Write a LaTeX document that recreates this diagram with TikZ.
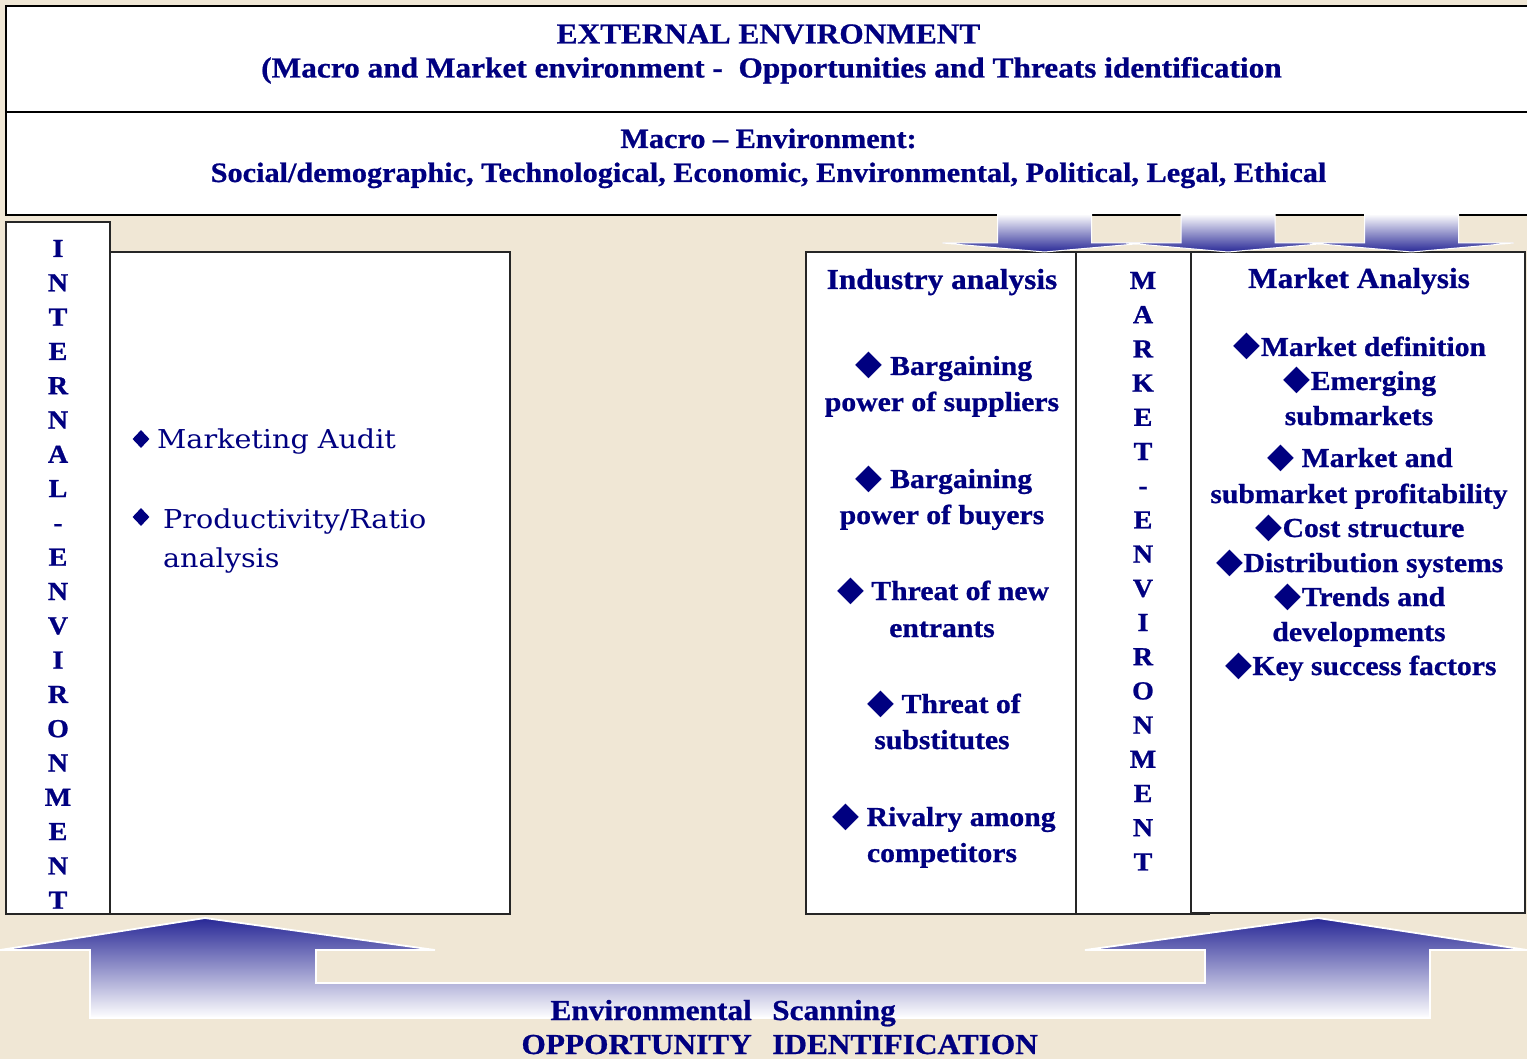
\documentclass[tikz,border=0pt]{standalone}
\usepackage{fontspec}
\setmainfont{Liberation Serif}[FakeStretch=1.08, BoldFeatures={FakeBold=0.8}]
\newfontfamily\bookfont{DejaVu Serif}[FakeStretch=1.1]
\newfontfamily\symfont{DejaVu Sans}
\usetikzlibrary{shapes.geometric}
\definecolor{beige}{RGB}{240,231,213}
\definecolor{navy}{RGB}{0,0,128}
\definecolor{arrowblue}{RGB}{40,40,150}
\newcommand\fsz[1]{\fontsize{#1}{#1}\selectfont}
\newcommand\dmd{{\symfont\fontsize{35}{35}\selectfont ◆}}
\begin{document}
\begin{tikzpicture}[x=1pt,y=-1pt,
  frame/.style={draw=black, line width=2.5pt, fill=white},
  panel/.style={draw=black!85, line width=1.6pt, fill=white},
  t/.style={text=navy, inner sep=0pt, anchor=base},
  head/.style={t, font=\bfseries\fsz{28}},
  title/.style={t, font=\bfseries\fsz{29}},
  item/.style={t, font=\bfseries\fsz{27.5}},
  vl/.style={t, font=\bfseries\fsz{26}},
  bul/.style={diamond, fill=navy, inner sep=0pt, minimum width=17pt, minimum height=18pt},
  downarrow/.style={top color=white, bottom color=arrowblue, draw=white, line width=1pt},
  uparrow/.style={top color=arrowblue, bottom color=white, draw=white, line width=1.8pt}]
\useasboundingbox (0,0) rectangle (1527,1059);
\fill[beige] (0,0) rectangle (1527,1059);
\begin{scope}
\clip (0,0) rectangle (1527,1059);

% external environment header and macro environment band
\draw[frame] (6,6) rectangle (1545,112);
\draw[frame] (6,112) rectangle (1545,215);
\node[title] (ext1) at (768.5,43.5) {EXTERNAL ENVIRONMENT};
\node[title] (ext2) at (771.5,77.5) {(Macro and Market environment -\ \ Opportunities and Threats identification};
\node[head] (mac1) at (768.5,148) {Macro -- Environment:};
\node[head] (mac2) at (768.5,182) {Social/demographic, Technological, Economic, Environmental, Political, Legal, Ethical};

% internal environment
\draw[panel] (6,222) rectangle (110,914);
\draw[panel] (110,252) rectangle (510,914);
\foreach \ch [count=\i from 0] in {I,N,T,E,R,N,A,L,-,E,N,V,I,R,O,N,M,E,N,T}
  \node[vl] (int\i) at (58,257+34.3*\i) {\ch};
\node[bul] (b1) at (141,439) {};
\node[t, anchor=base west, font=\bookfont\fsz{26}] (aud) at (157,448) {Marketing Audit};
\node[bul] (b2) at (141,517) {};
\node[t, anchor=base west, font=\bookfont\fsz{26}] (pro1) at (163,528) {Productivity/Ratio};
\node[t, anchor=base west, font=\bookfont\fsz{26}] (pro2) at (163,567) {analysis};

% market environment: industry and market analysis
\draw[panel] (806,252) rectangle (1076,914);
\draw[panel] (1076,252) rectangle (1191,914);
\draw[panel] (1191,252) rectangle (1525,913);
\draw[black!85, line width=1.6pt] (1076,914) -- (1210,914);

\node[title] (indh) at (942,289) {Industry analysis};
\node[item] (i1a) at (944,375) {\dmd\ Bargaining};
\node[item] (i1b) at (942,411) {power of suppliers};
\node[item] (i2a) at (944,488) {\dmd\ Bargaining};
\node[item] (i2b) at (942,524) {power of buyers};
\node[item] (i3a) at (943,600) {\dmd\ Threat of new};
\node[item] (i3b) at (942,637) {entrants};
\node[item] (i4a) at (944,713) {\dmd\ Threat of};
\node[item] (i4b) at (942,749) {substitutes};
\node[item] (i5a) at (944,826) {\dmd\ Rivalry among};
\node[item] (i5b) at (942,862) {competitors};

\foreach \ch [count=\i from 0] in {M,A,R,K,E,T,-,E,N,V,I,R,O,N,M,E,N,T}
  \node[vl] (mkt\i) at (1143,289+34.2*\i) {\ch};

\node[title] (mah) at (1359,288) {Market Analysis};
\node[item] (m1) at (1360,356) {\dmd Market definition};
\node[item] (m2a) at (1360,390) {\dmd Emerging};
\node[item] (m2b) at (1359,425) {submarkets};
\node[item] (m3a) at (1360,467) {\dmd\ Market and};
\node[item] (m3b) at (1359,503) {submarket profitability};
\node[item] (m4) at (1360,537) {\dmd Cost structure};
\node[item] (m5) at (1360,572) {\dmd Distribution systems};
\node[item] (m6a) at (1360,606) {\dmd Trends and};
\node[item] (m6b) at (1359,641) {developments};
\node[item] (m7) at (1361,675) {\dmd Key success factors};

% arrows from the macro band down into the market analysis
\foreach \c in {1044.5,1228,1411.5}
  \draw[downarrow] ({\c-47},214) -- ({\c+47},214) -- ({\c+47},243) -- ({\c+102},243)
    -- (\c,252) -- ({\c-102},243) -- ({\c-47},243) -- cycle;

% environmental scanning arrow
\draw[uparrow] (90,1018) -- (90,950) -- (0,950) -- (205,918) -- (435,950) -- (316,950)
  -- (316,983) -- (1205,983) -- (1205,950) -- (1085,950) -- (1318,918) -- (1527,950)
  -- (1430,950) -- (1430,1018) -- cycle;
\node[t, anchor=base east, font=\bfseries\fsz{29}] (scan1) at (752,1020) {Environmental};
\node[t, anchor=base west, font=\bfseries\fsz{29}] (scan2) at (772,1020) {Scanning};
\node[t, anchor=base east, font=\bfseries\fsz{29}] (opp1) at (752,1054) {OPPORTUNITY};
\node[t, anchor=base west, font=\bfseries\fsz{29}] (opp2) at (772,1054) {IDENTIFICATION};
\end{scope}
\end{tikzpicture}
\end{document}
